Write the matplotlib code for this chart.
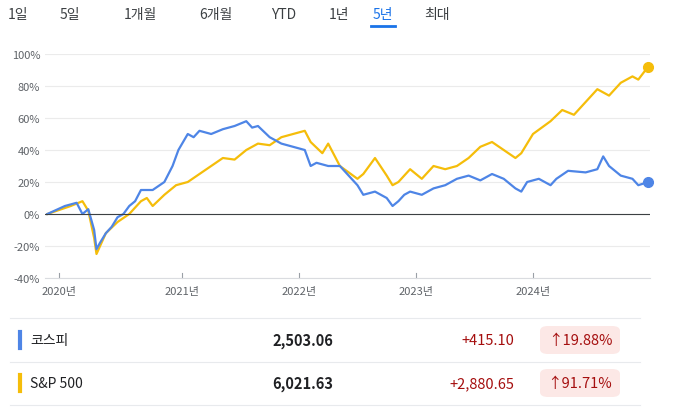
import matplotlib.pyplot as plt
from matplotlib.patches import FancyBboxPatch

plt.rcParams['font.family'] = ['Noto Sans CJK KR', 'DejaVu Sans']

tabs = ["1일", "5일", "1개월", "6개월", "YTD", "1년", "5년", "최대"]
tab_x = [18, 70, 140, 216, 284, 339, 383, 437]

kospi_t = [2019.8, 2019.95, 2020.05, 2020.1, 2020.15, 2020.2, 2020.22, 2020.25, 2020.3, 2020.35, 2020.4,
           2020.45, 2020.5, 2020.55, 2020.6, 2020.7, 2020.8, 2020.87, 2020.92, 2021.0, 2021.05, 2021.1,
           2021.2, 2021.3, 2021.4, 2021.5, 2021.55, 2021.6, 2021.7, 2021.8, 2021.9, 2022.0, 2022.05,
           2022.1, 2022.2, 2022.3, 2022.4, 2022.45, 2022.5, 2022.6, 2022.7, 2022.75, 2022.8, 2022.85,
           2022.9, 2023.0, 2023.1, 2023.2, 2023.3, 2023.4, 2023.5, 2023.6, 2023.7, 2023.8, 2023.85,
           2023.9, 2024.0, 2024.1, 2024.15, 2024.25, 2024.4, 2024.5, 2024.55, 2024.6, 2024.7, 2024.8,
           2024.85, 2024.93]
kospi_v = [0, 5, 7, 0, 3, -10, -22, -18, -12, -8, -2, 0, 5, 8, 15, 15, 20, 30, 40, 50, 48, 52, 50, 53,
           55, 58, 54, 55, 48, 44, 42, 40, 30, 32, 30, 30, 22, 18, 12, 14, 10, 5, 8, 12, 14, 12, 16, 18,
           22, 24, 21, 25, 22, 16, 14, 20, 22, 18, 22, 27, 26, 28, 36, 30, 24, 22, 18, 19.88]

sp_t = [2019.8, 2020.0, 2020.1, 2020.15, 2020.2, 2020.22, 2020.3, 2020.4, 2020.5, 2020.6, 2020.65, 2020.7,
        2020.8, 2020.9, 2021.0, 2021.1, 2021.2, 2021.3, 2021.4, 2021.5, 2021.6, 2021.7, 2021.8, 2021.9,
        2022.0, 2022.05, 2022.15, 2022.2, 2022.3, 2022.45, 2022.5, 2022.6, 2022.7, 2022.75, 2022.8,
        2022.9, 2023.0, 2023.1, 2023.2, 2023.3, 2023.4, 2023.5, 2023.6, 2023.7, 2023.8, 2023.85,
        2023.95, 2024.1, 2024.2, 2024.3, 2024.4, 2024.5, 2024.6, 2024.7, 2024.8, 2024.85, 2024.93]
sp_v = [0, 5, 8, 2, -15, -25, -12, -5, 0, 8, 10, 5, 12, 18, 20, 25, 30, 35, 34, 40, 44, 43, 48, 50, 52,
        45, 38, 44, 30, 22, 25, 35, 24, 18, 20, 28, 22, 30, 28, 30, 35, 42, 45, 40, 35, 38, 50, 58, 65,
        62, 70, 78, 74, 82, 86, 84, 91.71]

y_ticks = [-40, -20, 0, 20, 40, 60, 80, 100]
year_ticks = [2019.9, 2020.95, 2021.95, 2022.95, 2023.95]
year_labels = ["2020년", "2021년", "2022년", "2023년", "2024년"]

names = ["코스피", "S&P 500"]
prices = ["2,503.06", "6,021.63"]
changes = ["+415.10", "+2,880.65"]
pcts = ["19.88%", "91.71%"]

blue, yellow = "#4e85e6", "#f5bd0a"
W, H = 673, 410
fig = plt.figure(figsize=(6.73, 4.10), dpi=100)

def fx(px): return px / W
def fy(py): return 1 - py / H

for t, x in zip(tabs, tab_x):
    c = "#1a73e8" if t == "5년" else "#3c4043"
    fig.text(fx(x), fy(15), t, ha="center", va="center", fontsize=10, color=c)
fig.add_artist(plt.Line2D([fx(371), fx(395)], [fy(27), fy(27)], color="#1a73e8", lw=2))

ax = fig.add_axes([fx(45), fy(279), fx(650) - fx(45), fy(55) - fy(279)])
ax.plot(sp_t, sp_v, color=yellow, lw=1.6)
ax.plot(kospi_t, kospi_v, color=blue, lw=1.6)
ax.plot(sp_t[-1], sp_v[-1], "o", color=yellow, ms=7, clip_on=False, zorder=5)
ax.plot(kospi_t[-1], kospi_v[-1], "o", color=blue, ms=7, clip_on=False, zorder=5)
ax.set_xlim(2019.78, 2024.95)
ax.set_ylim(-40, 100)
ax.set_yticks(y_ticks)
ax.set_yticklabels([f"{v}%" for v in y_ticks])
ax.grid(axis="y", color="#ebebeb", lw=0.8)
ax.axhline(0, color="#3c4043", lw=0.8)
ax.set_xticks(year_ticks)
ax.set_xticklabels(year_labels)
ax.tick_params(axis="both", length=0, labelsize=8, colors="#5f6368")
ax.tick_params(axis="x", pad=6)
for yt in year_ticks:
    ax.plot([yt, yt], [-40, -37], color="#9aa0a6", lw=0.8, clip_on=False)
for s in ax.spines.values():
    s.set_visible(False)
ax.spines["bottom"].set_visible(True)
ax.spines["bottom"].set_color("#dadce0")

rows_y = [341, 384]
for i, ry in enumerate(rows_y):
    c = blue if i == 0 else yellow
    fig.add_artist(plt.Line2D([fx(20), fx(20)], [fy(ry - 8), fy(ry + 8)], color=c, lw=3))
    fig.text(fx(30), fy(ry), names[i], ha="left", va="center", fontsize=10, color="#202124")
    fig.text(fx(333), fy(ry), prices[i], ha="right", va="center", fontsize=10.5, weight="bold", color="#202124")
    fig.text(fx(514), fy(ry), changes[i], ha="right", va="center", fontsize=10.5, color="#a50e0e")
    box = FancyBboxPatch((fx(540), fy(ry + 14)), fx(80), fy(ry - 14) - fy(ry + 14),
                         boxstyle="round,pad=0,rounding_size=0.012", transform=fig.transFigure,
                         facecolor="#fce8e6", edgecolor="none")
    fig.add_artist(box)
    fig.text(fx(580), fy(ry), "↑" + pcts[i], ha="center", va="center", fontsize=10.5, color="#a50e0e")
    fig.add_artist(plt.Line2D([fx(10), fx(640)], [fy(ry + 22), fy(ry + 22)], color="#e8eaed", lw=0.8))
fig.add_artist(plt.Line2D([fx(10), fx(640)], [fy(319), fy(319)], color="#e8eaed", lw=0.8))

fig.savefig("out.png", dpi=100)
